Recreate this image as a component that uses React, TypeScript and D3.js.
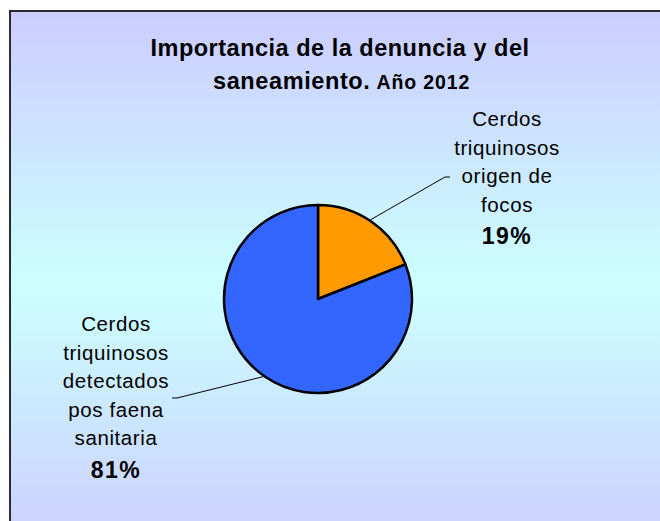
import React from "react";
import * as d3 from "d3";

const categories = ["Cerdos triquinosos origen de focos", "Cerdos triquinosos detectados pos faena sanitaria"];
const values = [19, 81];
const colors = ["#FF9900", "#3366FF"];
const labelLines = [
  ["Cerdos", "triquinosos", "origen de", "focos"],
  ["Cerdos", "triquinosos", "detectados", "pos faena", "sanitaria"],
];
const titleLine1 = "Importancia de la denuncia y del";
const titleLine2a = "saneamiento.";
const titleLine2b = "Año 2012";

export default function App() {
  const W = 660, H = 521;
  const cx = 318, cy = 299, r = 94;
  const pie = d3.pie<number>().sort(null).value((d) => d)(values);
  const arc = d3.arc<d3.PieArcDatum<number>>().innerRadius(0).outerRadius(r);
  const font = "'Liberation Sans', Arial, sans-serif";

  const labelPos = [
    { x: 507, y: 126, ang: 0.585, lead: [[450, 177], [445, 177]] },
    { x: 116, y: 331, ang: 3.756, lead: [[172, 398], [177, 398]] },
  ];
  const pct = values.map((v) => Math.round((v / d3.sum(values)) * 100) + "%");

  return (
    <svg width={W} height={H} style={{ position: "absolute", left: 0, top: 0 }} fontFamily={font}>
      <defs>
        <linearGradient id="bg" x1="0" y1="10" x2="0" y2="560" gradientUnits="userSpaceOnUse">
          <stop offset="0" stopColor="#CCCCFF" />
          <stop offset="0.5" stopColor="#CCFFFF" />
          <stop offset="1" stopColor="#CCCCFF" />
        </linearGradient>
      </defs>
      <rect x={0} y={0} width={W} height={H} fill="#fff" />
      <rect x={10} y={11} width={720} height={620} fill="url(#bg)" stroke="#2b2b33" strokeWidth={2} />
      <text x={340} y={56} textAnchor="middle" fontWeight="bold" fontSize={23.5} letterSpacing={0.5} fill="#000">
        {titleLine1}
      </text>
      <text x={213} y={89} fontWeight="bold" fontSize={23.5} letterSpacing={0.6} fill="#000">
        {titleLine2a}
        <tspan fontSize={19.5} dx={6} letterSpacing={0.9}>{titleLine2b}</tspan>
      </text>
      <g transform={`translate(${cx},${cy})`}>
        {pie.map((p, i) => (
          <path key={i} d={arc(p) || ""} fill={colors[i]} stroke="#000" strokeWidth={2.5} strokeLinejoin="round" />
        ))}
      </g>
      {pie.map((p, i) => {
        const lp = labelPos[i];
        const ex = cx + Math.sin(lp.ang) * (r + 1);
        const ey = cy - Math.cos(lp.ang) * (r + 1);
        const pts = [[ex, ey], lp.lead[1], lp.lead[0]];
        return (
          <g key={"l" + i}>
            <polyline points={pts.map((q) => q.join(",")).join(" ")} fill="none" stroke="#000" strokeWidth={1} />
            {labelLines[i].map((t, j) => (
              <text key={j} x={lp.x} y={lp.y + j * 28.6} textAnchor="middle" fontSize={20.5} letterSpacing={0.6} fill="#000">
                {t}
              </text>
            ))}
            <text x={lp.x} y={lp.y + labelLines[i].length * 28.6 + 4} textAnchor="middle" fontSize={23} fontWeight="bold" letterSpacing={1.5} fill="#000">
              {pct[i]}
            </text>
          </g>
        );
      })}
    </svg>
  );
}
